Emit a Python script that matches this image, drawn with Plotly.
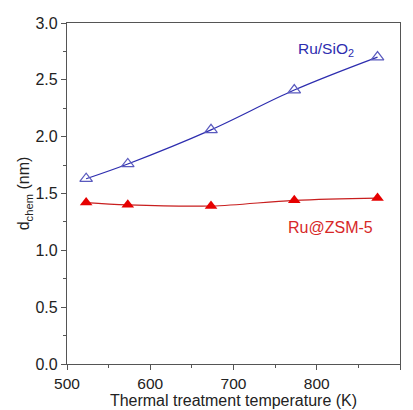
import plotly.graph_objects as go

temps = [523, 573, 673, 773, 873]
ru_sio2 = [1.63, 1.76, 2.06, 2.41, 2.70]
ru_zsm5 = [1.42, 1.40, 1.39, 1.44, 1.46]

blue = "rgb(45,45,175)"
red = "rgb(230,0,0)"
FONT = "Liberation Sans, Arial"

fig = go.Figure()
fig.add_trace(go.Scatter(
    x=temps, y=ru_sio2, mode="lines+markers", line=dict(color=blue, width=1.2, shape="spline"),
    marker=dict(symbol="triangle-up-open", size=11, color="rgb(90,90,190)", line=dict(width=1.2)),
    showlegend=False))
fig.add_trace(go.Scatter(
    x=temps, y=ru_zsm5, mode="lines+markers", line=dict(color="rgb(200,30,30)", width=1.2, shape="spline"),
    marker=dict(symbol="triangle-up", size=11, color=red),
    showlegend=False))

fig.add_annotation(x=811, y=2.77, text="Ru/SiO<sub>2</sub>", showarrow=False,
                   font=dict(color=blue, size=15.5, family=FONT))
fig.add_annotation(x=816, y=1.20, text="Ru@ZSM-5", showarrow=False,
                   font=dict(color="rgb(215,40,40)", size=16, family=FONT))

axis_common = dict(showline=True, linecolor="#555", linewidth=1.2, mirror=True,
                   ticks="outside", ticklen=5, tickcolor="#555", showgrid=False, zeroline=False,
                   automargin=False)
fig.update_xaxes(range=[500, 900], dtick=100, tick0=500,
                 tickfont=dict(size=15.5, color="#222"),
                 minor=dict(ticks="outside", ticklen=3, dtick=50, tickcolor="#555"),
                 title=dict(text="Thermal treatment temperature (K)", font=dict(size=16, color="#222"), standoff=3),
                 **axis_common)
fig.update_yaxes(range=[0, 3.0], dtick=0.5, tick0=0, tickformat=".1f",
                 tickfont=dict(size=16, color="#222"),
                 minor=dict(ticks="outside", ticklen=3, dtick=0.25, tickcolor="#555"),
                 title=dict(text="d<sub>chem</sub> (nm)", font=dict(size=16, color="#222"), standoff=1),
                 **axis_common)
fig.update_layout(width=413, height=410, margin=dict(l=67, r=13, t=23, b=46),
                  plot_bgcolor="white", paper_bgcolor="white",
                  font=dict(family=FONT))
fig.write_html("out.html")
